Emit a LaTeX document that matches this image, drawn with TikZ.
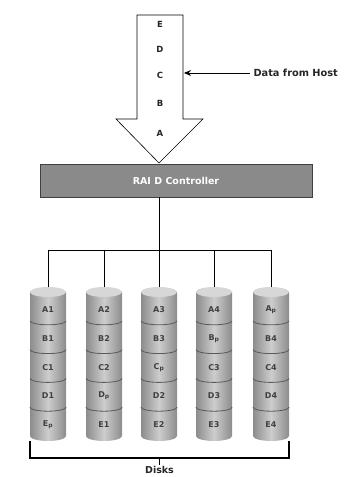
\documentclass[tikz,border=0pt]{standalone}
\usepackage{fontspec}
\setmainfont{DejaVu Sans}
\usepackage{tikz}
\usetikzlibrary{positioning, arrows}
\usetikzlibrary{arrows.meta}

\definecolor{ctrlgray}{RGB}{138,138,138}
\definecolor{diskdark}{RGB}{140,140,140}
\definecolor{disklight}{RGB}{205,205,205}
\definecolor{disktop}{RGB}{215,215,215}
\newcommand{\parity}[1]{#1\textsubscript{p}}

\begin{document}
\begin{tikzpicture}[x=1pt, y=1pt, >=stealth,
    lbl/.style={font=\bfseries\fontsize{8.5}{9}\selectfont, text=black!85},
    disklbl/.style={font=\bfseries\fontsize{8}{9}\selectfont, text=black!75},
    ctrl/.style={draw=black!75, fill=ctrlgray, minimum width=272pt, minimum height=33pt,
        text=white, font=\bfseries\fontsize{9.5}{11}\selectfont},
    sep/.style={draw=black!65, line width=0.8pt}]

    \useasboundingbox (0,0) rectangle (344,477);

    % Data arrow
    \draw[fill=white, line width=0.6pt] (137,462) -- (183,462) -- (183,358) -- (203,358)
        -- (159,314) -- (116,358) -- (137,358) -- cycle;
    \foreach \l/\y in {E/453, D/428, C/402, B/374, A/344}
        \node[lbl] (\l) at (160,\y) {\l};

    % Host label
    \node[lbl, font=\bfseries\fontsize{9.8}{11}\selectfont, anchor=west] (host) at (250,404) {Data from Host};
    \coordinate (shaft) at (184,404);
    \draw[-{Stealth[length=7pt, width=6pt]}, line width=0.9pt] (host) -- (shaft);

    % Controller
    \node[ctrl] (raid) at (176,296.5) {RAI D Controller};
    \coordinate (bus) at (159,227);
    \draw[line width=0.7pt] (raid.south -| bus) -- (bus);

    % Disks
    \foreach \i/\cx/\la/\lb/\lc/\ld/\le in {1/48/A1/B1/C1/D1/\parity{E},
        2/104/A2/B2/C2/\parity{D}/E1, 3/159/A3/B3/\parity{C}/D2/E2,
        4/214/A4/\parity{B}/C3/D3/E3, 5/271/\parity{A}/B4/C4/D4/E4} {
        \shade[left color=diskdark, right color=diskdark, middle color=disklight]
            (\cx-18,185) -- (\cx-18,41) arc[start angle=180, end angle=360, x radius=18, y radius=5]
            -- (\cx+18,185) -- cycle;
        \fill[disktop] (\cx,185) ellipse[x radius=18, y radius=5];
        \foreach \k in {1,...,4}
            \draw[sep] (\cx-18,185-28.8*\k) arc[start angle=180, end angle=360, x radius=18, y radius=4];
        \coordinate (top\i) at (\cx,190);
        \node[disklbl] (d\i a) at (\cx,167) {\la};
        \node[disklbl] (d\i b) at (\cx,138.5) {\lb};
        \node[disklbl] (d\i c) at (\cx,109.5) {\lc};
        \node[disklbl] (d\i d) at (\cx,81) {\ld};
        \node[disklbl] (d\i e) at (\cx,52) {\le};
    }

    % Bus lines
    \draw[line width=0.7pt] (top1 |- bus) -- (top5 |- bus);
    \foreach \i in {1,...,5}
        \draw[line width=0.7pt] (top\i |- bus) -- (top\i);

    % Bracket
    \coordinate (bl) at (30,36);
    \coordinate (br) at (289,36);
    \coordinate (brmid) at (159.5,19);
    \draw[line width=1.6pt] (bl) |- (brmid) -| (br);
    \node[lbl, font=\bfseries\fontsize{9.5}{11}\selectfont, anchor=north, inner sep=1pt] (disks) at (159.5,12) {Disks};
    \draw[line width=1.6pt] (brmid) -- (disks.north);

\end{tikzpicture}
\end{document}
